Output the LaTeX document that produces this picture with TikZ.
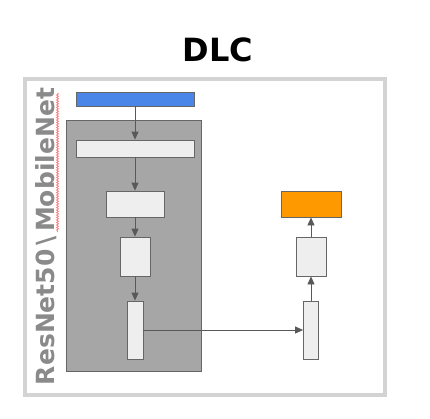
\documentclass[tikz,border=0pt]{standalone}
\usepackage{fontspec}
\setmainfont{DejaVu Sans}
\usetikzlibrary{arrows.meta,positioning,decorations.pathmorphing}
\definecolor{frameg}{HTML}{D3D3D3}
\definecolor{panelg}{HTML}{A6A6A6}
\definecolor{edgeg}{HTML}{666666}
\definecolor{boxg}{HTML}{EEEEEE}
\definecolor{arrg}{HTML}{595959}
\definecolor{inblue}{HTML}{4A86E8}
\definecolor{outorange}{HTML}{FF9900}
\definecolor{labelg}{HTML}{8A8A8A}

\begin{document}
\begin{tikzpicture}[x=1pt,y=-1pt,
    layer/.style={rectangle,draw=edgeg,fill=boxg,line width=0.8pt,
      inner sep=0pt, minimum width=#1},
    to/.style={-{Triangle[length=8pt,width=7pt]}, draw=arrg, line width=0.8pt},
    every node/.style={align=center}]

  \useasboundingbox (0,0) rectangle (430,418);
  \node[font=\bfseries\fontsize{32}{36}\selectfont] (titl) at (218,50) {DLC};
  \draw[frameg,line width=4pt] (25,79) rectangle (385,395);

  % backbone
  \node[rectangle,draw=edgeg,fill=panelg,line width=0.8pt,minimum width=135pt,
    minimum height=251pt] (back) at (133.5,245.5) {};
  \node[rotate=90,text=labelg,font=\bfseries\fontsize{25}{28}\selectfont]
    (name) at (46.5,236.5) {ResNet50\,\textbackslash\,MobileNet};
  \draw[red!55,line width=0.7pt,decorate,
    decoration={snake,amplitude=1pt,segment length=2.5pt}] (57.5,93) -- (57.5,232);

  \node[layer=118pt,fill=inblue,minimum height=14pt] (inpt) at (135,99) {};
  \node[layer=118pt,minimum height=17pt] (conv) at (135,148.5) {};
  \node[layer=58pt,minimum height=26pt] (blka) at (135,204) {};
  \node[layer=30pt,minimum height=39pt] (blkb) at (135,256.5) {};
  \node[layer=16pt,minimum height=58pt] (feat) at (135,330) {};

  % head
  \node[layer=15pt,minimum height=58pt] (hfea) at (311,330) {};
  \node[layer=30pt,minimum height=39pt] (hmid) at (311,256.5) {};
  \node[layer=60pt,fill=outorange,minimum height=26pt] (outp) at (311,204) {};

  \path (inpt.south) edge[to] (conv.north);
  \path (conv.south) edge[to] (blka.north);
  \path (blka.south) edge[to] (blkb.north);
  \path (blkb.south) edge[to] (feat.north);
  \path (feat.east) edge[to] (hfea.west);
  \path (hfea.north) edge[to] (hmid.south);
  \path (hmid.north) edge[to] (outp.south);

\end{tikzpicture}
\end{document}
